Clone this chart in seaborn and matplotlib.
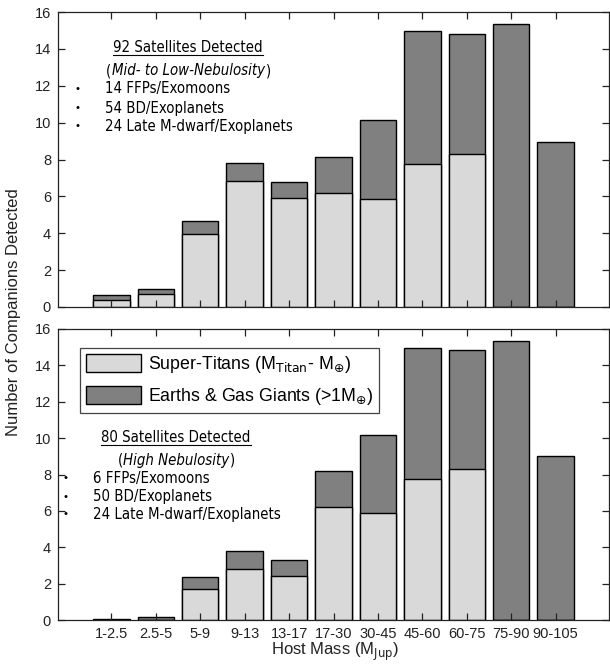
import pandas as pd
import matplotlib
matplotlib.use('Agg')
import matplotlib.pyplot as plt
import seaborn as sns
from matplotlib.patches import Patch
from matplotlib.lines import Line2D

# Categorías de masa del anfitrión
categorias = ['1-2.5', '2.5-5', '5-9', '9-13', '13-17', '17-30',
              '30-45', '45-60', '60-75', '75-90', '90-105']

# Panel superior (nebulosidad media-baja)
sup_titanes_arriba = [0.36, 0.69, 3.98, 6.85, 5.92, 6.19, 5.84, 7.73, 8.29, 0.0, 0.0]
total_arriba = [0.65, 0.99, 4.68, 7.82, 6.78, 8.16, 10.16, 14.95, 14.80, 15.34, 8.96]

# Panel inferior (nebulosidad alta)
sup_titanes_abajo = [0.0, 0.0, 1.68, 2.82, 2.43, 6.20, 5.87, 7.73, 8.30, 0.0, 0.0]
total_abajo = [0.05, 0.15, 2.34, 3.78, 3.29, 8.17, 10.18, 14.95, 14.83, 15.36, 8.99]

textos_arriba = ['92 Satellites Detected', 'Mid- to Low-Nebulosity',
                 ['14 FFPs/Exomoons', '54 BD/Exoplanets', '24 Late M-dwarf/Exoplanets']]
textos_abajo = ['80 Satellites Detected', 'High Nebulosity',
                ['6 FFPs/Exomoons', '50 BD/Exoplanets', '24 Late M-dwarf/Exoplanets']]

claro = '#d9d9d9'
oscuro = '#808080'

# Estilo tipo MATLAB: marcas hacia dentro en los cuatro lados
plt.rcParams.update({
    'font.family': ['Liberation Sans', 'DejaVu Sans'],
    'axes.axisbelow': False,
    'xtick.direction': 'in', 'ytick.direction': 'in',
    'xtick.top': True, 'ytick.right': True,
    'xtick.bottom': True, 'ytick.left': True,
    'xtick.major.size': 5, 'ytick.major.size': 5,
    'xtick.major.width': 0.9, 'ytick.major.width': 0.9,
    'xtick.color': '#222222', 'ytick.color': '#222222',
})

fig = plt.figure(figsize=(6.10, 6.64), dpi=100)
W, H = 610, 664
ax1 = fig.add_axes([58 / W, 1 - 307 / H, 551 / W, 295 / H])
ax2 = fig.add_axes([58 / W, 1 - 620 / H, 551 / W, 291 / H])


def dibujar(ax, claros, totales):
    df = pd.DataFrame({'cat': categorias, 'claro': claros, 'total': totales})
    sns.barplot(data=df, x='cat', y='total', order=categorias, color=oscuro,
                edgecolor='black', linewidth=1, width=0.82, saturation=1, ax=ax)
    sns.barplot(data=df, x='cat', y='claro', order=categorias, color=claro,
                edgecolor='black', linewidth=1, width=0.82, saturation=1, ax=ax)
    ax.set_xlim(-1.2, 11.2)
    ax.set_ylim(0, 16)
    ax.set_yticks(range(0, 17, 2))
    ax.set_xlabel('')
    ax.set_ylabel('')
    ax.set_axisbelow(False)
    ax.tick_params(axis='both', which='major', direction='in', bottom=True,
                   left=True, top=True, right=True, length=5, width=0.9,
                   labelsize=10.5, pad=5)
    for s in ax.spines.values():
        s.set_linewidth(0.9)
        s.set_color('#222222')


dibujar(ax1, sup_titanes_arriba, total_arriba)
dibujar(ax2, sup_titanes_abajo, total_abajo)
ax1.set_xticklabels([])
ax2.set_xticklabels(categorias, fontsize=10.5)

fuente = dict(family='DejaVu Sans', fontstretch='condensed', fontsize=10.7)
fig.canvas.draw()
inv = fig.transFigure.inverted()


def caja(t):
    bb = t.get_window_extent()
    (x0, y0), (x1, y1) = inv.transform([(bb.x0, bb.y0), (bb.x1, bb.y1)])
    return x0, y0, x1, y1


def anotar(tx, ty_tit, ty_sub, x_bala, x_txt, ys, textos):
    titulo, sub, lineas = textos
    t = fig.text(tx / W, 1 - ty_tit / H, titulo, ha='center', va='center', **fuente)
    s = fig.text(tx / W, 1 - ty_sub / H, sub, ha='center', va='center',
                 style='italic', **fuente)
    x0, _, x1, _ = caja(t)
    fig.add_artist(Line2D([x0, x1], [1 - (ty_tit + 8) / H] * 2, color='black',
                          linewidth=0.8))
    x0, _, x1, _ = caja(s)
    fig.text(x0, 1 - ty_sub / H, '(', ha='right', va='center', **fuente)
    fig.text(x1 + 1 / W, 1 - ty_sub / H, ')', ha='left', va='center', **fuente)
    for y, linea in zip(ys, lineas):
        fig.text(x_bala / W, 1 - y / H, '•', ha='center', va='center', fontsize=8)
        fig.text(x_txt / W, 1 - y / H, linea, ha='left', va='center', **fuente)


anotar(188, 47, 71, 78, 105, [89, 108, 126], textos_arriba)
anotar(176, 437, 460, 66, 93, [478, 497, 514], textos_abajo)

handles = [Patch(facecolor=claro, edgecolor='black', linewidth=1),
           Patch(facecolor=oscuro, edgecolor='black', linewidth=1)]
etiquetas = [r'Super-Titans (M$_{\mathrm{Titan}}$- M$_{\oplus}$)',
             r'Earths & Gas Giants (>1M$_{\oplus}$)']
leg = ax2.legend(handles, etiquetas, loc='upper left', bbox_to_anchor=(0.04, 0.935),
                 fontsize=12.8, frameon=True, fancybox=False, framealpha=1,
                 edgecolor='#444444', handlelength=3.1, handleheight=1.2,
                 borderpad=0.35, labelspacing=0.6, handletextpad=0.35,
                 borderaxespad=0)
leg.get_frame().set_linewidth(0.9)

fig.text(14 / W, 1 - 312 / H, 'Number of Companions Detected', rotation=90,
         ha='center', va='center', fontsize=12, color='#222222')
fig.text(335 / W, 1 - 652 / H, r'Host Mass (M$_{\mathrm{Jup}}$)', ha='center',
         va='center', fontsize=12, color='#222222')

fig.savefig('out.png', dpi=100)
